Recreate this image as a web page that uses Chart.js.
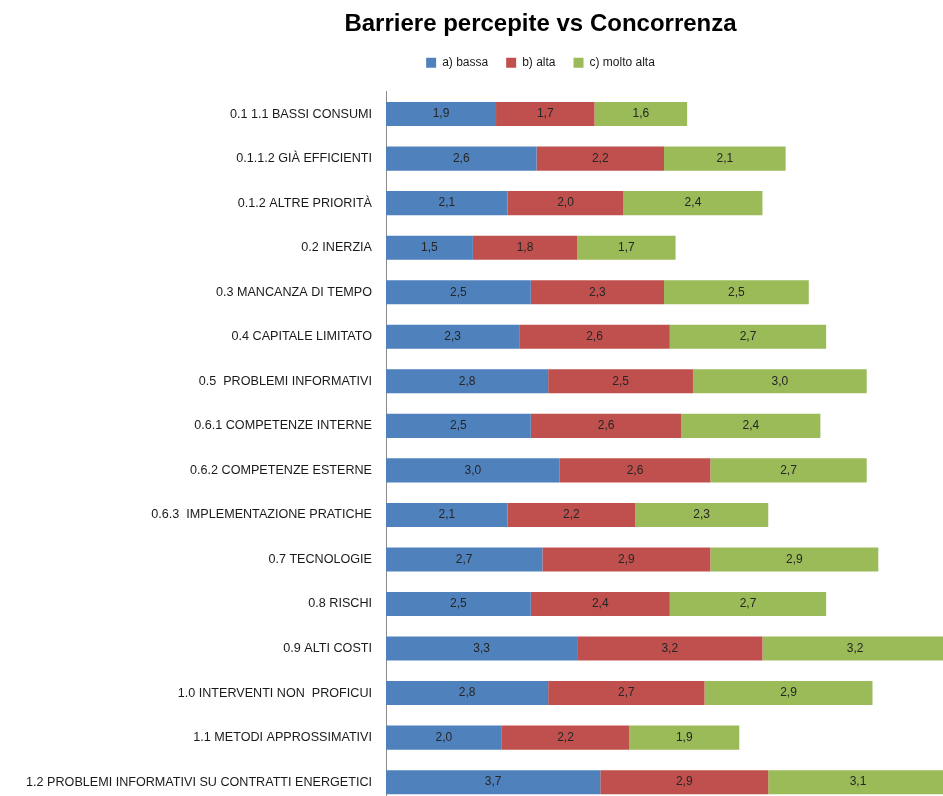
<!DOCTYPE html>
<html>
<head>
<meta charset="utf-8">
<script src="https://cdn.jsdelivr.net/npm/chart.js@4.4.1/dist/chart.umd.min.js"></script>
<style>
  html, body { margin: 0; padding: 0; background: #fff; overflow: hidden; width: 943px; height: 796px; }
  #wrap { position: absolute; left: 0; top: 0; width: 1095px; height: 826px; }
</style>
</head>
<body>
<div id="wrap"><canvas id="c" width="1095" height="826"></canvas></div>
<script>
const categories = [
  "0.1 1.1 BASSI CONSUMI",
  "0.1.1.2 GIÀ EFFICIENTI",
  "0.1.2 ALTRE PRIORITÀ",
  "0.2 INERZIA",
  "0.3 MANCANZA DI TEMPO",
  "0.4 CAPITALE LIMITATO",
  "0.5  PROBLEMI INFORMATIVI",
  "0.6.1 COMPETENZE INTERNE",
  "0.6.2 COMPETENZE ESTERNE",
  "0.6.3  IMPLEMENTAZIONE PRATICHE",
  "0.7 TECNOLOGIE",
  "0.8 RISCHI",
  "0.9 ALTI COSTI",
  "1.0 INTERVENTI NON  PROFICUI",
  "1.1 METODI APPROSSIMATIVI",
  "1.2 PROBLEMI INFORMATIVI SU CONTRATTI ENERGETICI"
];
const bassa     = [1.9, 2.6, 2.1, 1.5, 2.5, 2.3, 2.8, 2.5, 3.0, 2.1, 2.7, 2.5, 3.3, 2.8, 2.0, 3.7];
const alta      = [1.7, 2.2, 2.0, 1.8, 2.3, 2.6, 2.5, 2.6, 2.6, 2.2, 2.9, 2.4, 3.2, 2.7, 2.2, 2.9];
const moltoAlta = [1.6, 2.1, 2.4, 1.7, 2.5, 2.7, 3.0, 2.4, 2.7, 2.3, 2.9, 2.7, 3.2, 2.9, 1.9, 3.1];
const seriesNames = ["a) bassa", "b) alta", "c) molto alta"];

const FONT = "'Liberation Sans', Arial, sans-serif";

// Writes each segment's value (decimal comma) at the centre of its bar
const segmentLabels = {
  id: 'segmentLabels',
  afterDatasetsDraw(chart) {
    const ctx = chart.ctx;
    ctx.save();
    ctx.font = "12px " + FONT;
    ctx.fillStyle = "#262626";
    ctx.textAlign = "center";
    ctx.textBaseline = "middle";
    chart.data.datasets.forEach((ds, di) => {
      const meta = chart.getDatasetMeta(di);
      meta.data.forEach((bar, i) => {
        const v = ds.data[i];
        const cx = (bar.x + bar.base) / 2;
        ctx.fillText(v.toFixed(1).replace('.', ','), cx, bar.y);
      });
    });
    ctx.restore();
  }
};

new Chart(document.getElementById('c'), {
  type: 'bar',
  data: {
    labels: categories,
    datasets: [
      { label: seriesNames[0], data: bassa,     backgroundColor: '#4F81BD' },
      { label: seriesNames[1], data: alta,      backgroundColor: '#C0504D' },
      { label: seriesNames[2], data: moltoAlta, backgroundColor: '#9BBB59' }
    ]
  },
  options: {
    indexAxis: 'y',
    responsive: false,
    animation: false,
    layout: { padding: { left: 0, right: 14, top: 0, bottom: 8 } },
    datasets: { bar: { categoryPercentage: 1.0, barPercentage: 0.54 } },
    scales: {
      x: {
        stacked: true,
        position: 'top',
        min: 0, max: 12,
        grid: { display: false },
        border: { display: false },
        ticks: { display: false },
        afterFit(scale) { scale.height = 13; }
      },
      y: {
        stacked: true,
        grid: { display: false, drawTicks: false },
        border: { display: true, color: '#8c8c8c', width: 1 },
        ticks: { color: '#1a1a1a', padding: 14, font: { family: FONT, size: 12.6 } },
        afterFit(scale) { scale.width = 386; }
      }
    },
    plugins: {
      title: {
        display: true,
        text: 'Barriere percepite vs Concorrenza',
        color: '#000',
        font: { family: FONT, size: 24, weight: 'bold' },
        padding: { top: 10, bottom: 0 }
      },
      legend: {
        position: 'top',
        labels: {
          boxWidth: 10, boxHeight: 10, padding: 18,
          color: '#1a1a1a',
          font: { family: FONT, size: 12 }
        }
      },
      tooltip: { enabled: false }
    }
  },
  plugins: [segmentLabels]
});
</script>
</body>
</html>
